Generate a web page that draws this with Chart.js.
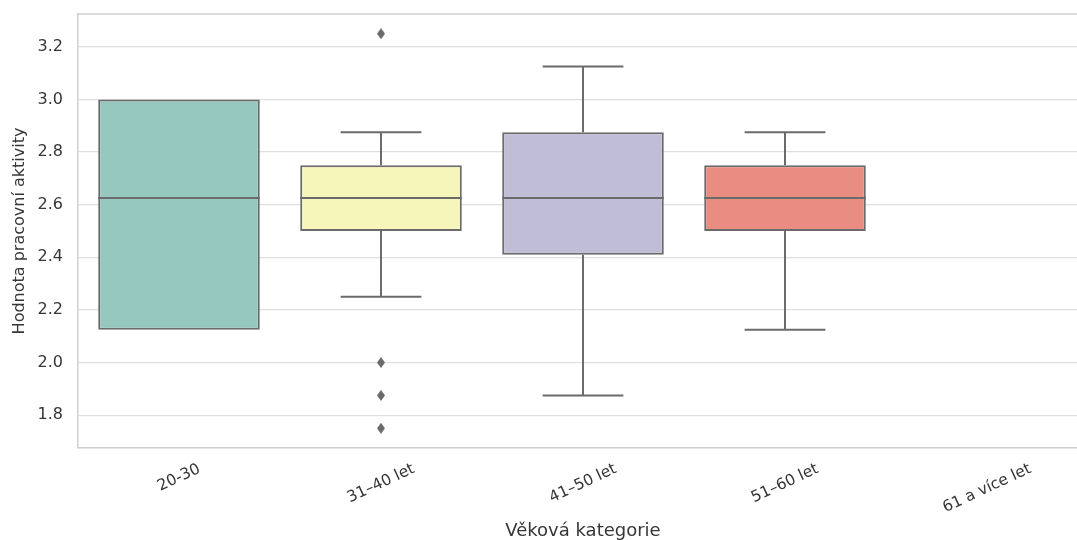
<!DOCTYPE html>
<html>
<head>
<meta charset="utf-8">
<script src="https://cdn.jsdelivr.net/npm/chart.js@4/dist/chart.umd.min.js"></script>
<style>
    html, body { margin: 0; padding: 0; background: #fff; overflow: hidden; }
    #wrap { width: 1094px; height: 540px; position: relative; }
</style>
</head>
<body>
<div id="wrap"><canvas id="boxChart"></canvas></div>
<script>
// Box plot data per age category
const categories = ['20-30', '31–40 let', '41–50 let', '51–60 let', '61 a více let'];
const q1 = [2.125, 2.5, 2.41, 2.5, null];
const medians = [2.625, 2.625, 2.625, 2.625, null];
const q3 = [3.0, 2.75, 2.875, 2.75, null];
const whiskerLow = [2.125, 2.25, 1.875, 2.125, null];
const whiskerHigh = [3.0, 2.875, 3.125, 2.875, null];
const outliers = [[], [3.25, 2.0, 1.875, 1.75], [], [], []];
const yTicks = [1.8, 2.0, 2.2, 2.4, 2.6, 2.8, 3.0, 3.2];

const boxColors = ['#97c8c0', '#f6f6bb', '#c0bdd6', '#e98d82', '#cccccc'];
const lineColor = '#6b6b6b';
const textColor = '#363636';

// thin diamond marker like matplotlib 'd'
const diamond = document.createElement('canvas');
diamond.width = 8;
diamond.height = 11;
const dctx = diamond.getContext('2d');
dctx.fillStyle = lineColor;
dctx.beginPath();
dctx.moveTo(4, 0);
dctx.lineTo(8, 5.5);
dctx.lineTo(4, 11);
dctx.lineTo(0, 5.5);
dctx.closePath();
dctx.fill();

const outlierPoints = [];
outliers.forEach((list, i) => {
    list.forEach(v => outlierPoints.push({ x: categories[i], y: v }));
});

// medians, whiskers, top frame and rotated x labels
const boxExtras = {
    id: 'boxExtras',
    beforeDatasetsDraw(chart) {
        const { ctx, chartArea } = chart;
        ctx.save();
        ctx.strokeStyle = '#d0d0d0';
        ctx.lineWidth = 1.5;
        ctx.beginPath();
        ctx.moveTo(chartArea.left, chartArea.top);
        ctx.lineTo(chartArea.right, chartArea.top);
        ctx.stroke();
        ctx.restore();
    },
    afterDatasetsDraw(chart) {
        const { ctx, scales } = chart;
        const x = scales.x, y = scales.y;
        const bars = chart.getDatasetMeta(0).data;
        ctx.save();
        ctx.strokeStyle = lineColor;
        ctx.lineWidth = 2;
        ctx.lineCap = 'butt';
        categories.forEach((c, i) => {
            if (medians[i] === null) return;
            const cx = x.getPixelForValue(i);
            const half = bars[i].width / 2;
            const capHalf = half / 2;
            // median
            ctx.beginPath();
            ctx.moveTo(cx - half, y.getPixelForValue(medians[i]));
            ctx.lineTo(cx + half, y.getPixelForValue(medians[i]));
            ctx.stroke();
            // whiskers
            if (whiskerHigh[i] > q3[i]) {
                ctx.beginPath();
                ctx.moveTo(cx, y.getPixelForValue(q3[i]));
                ctx.lineTo(cx, y.getPixelForValue(whiskerHigh[i]));
                ctx.moveTo(cx - capHalf, y.getPixelForValue(whiskerHigh[i]));
                ctx.lineTo(cx + capHalf, y.getPixelForValue(whiskerHigh[i]));
                ctx.stroke();
            }
            if (whiskerLow[i] < q1[i]) {
                ctx.beginPath();
                ctx.moveTo(cx, y.getPixelForValue(q1[i]));
                ctx.lineTo(cx, y.getPixelForValue(whiskerLow[i]));
                ctx.moveTo(cx - capHalf, y.getPixelForValue(whiskerLow[i]));
                ctx.lineTo(cx + capHalf, y.getPixelForValue(whiskerLow[i]));
                ctx.stroke();
            }
        });
        ctx.restore();
    },
    afterDraw(chart) {
        const { ctx, scales, chartArea } = chart;
        const x = scales.x;
        const size = 15.5;
        ctx.save();
        ctx.font = size + 'px "DejaVu Sans"';
        ctx.fillStyle = textColor;
        ctx.textAlign = 'center';
        ctx.textBaseline = 'middle';
        const ang = 25 * Math.PI / 180;
        categories.forEach((label, i) => {
            const w = ctx.measureText(label).width;
            const boxH = w * Math.sin(ang) + 0.76 * size * Math.cos(ang);
            const cx = x.getPixelForValue(i);
            const cy = chartArea.bottom + 15 + boxH / 2;
            ctx.save();
            ctx.translate(cx, cy);
            ctx.rotate(-ang);
            ctx.fillText(label, 0, 0);
            ctx.restore();
        });
        ctx.restore();
    }
};

const ctx = document.getElementById('boxChart').getContext('2d');
new Chart(ctx, {
    data: {
        labels: categories,
        datasets: [{
            type: 'bar',
            label: 'Box',
            data: categories.map((c, i) => q1[i] === null ? null : [q1[i], q3[i]]),
            backgroundColor: boxColors,
            borderColor: lineColor,
            borderWidth: 2,
            borderSkipped: false,
            barPercentage: 1,
            categoryPercentage: 0.8
        }, {
            type: 'line',
            label: 'Odlehlé hodnoty',
            data: outlierPoints,
            showLine: false,
            pointStyle: diamond,
            pointRadius: 5,
            pointBackgroundColor: lineColor,
            pointBorderColor: lineColor
        }]
    },
    options: {
        responsive: true,
        maintainAspectRatio: false,
        animation: false,
        layout: {
            padding: { top: 14, left: 10, right: 0, bottom: 0 }
        },
        plugins: {
            legend: { display: false },
            tooltip: { enabled: false }
        },
        scales: {
            x: {
                type: 'category',
                grid: { display: false, drawTicks: false },
                border: { display: true, color: '#d0d0d0', width: 1.5 },
                ticks: { display: false },
                afterFit: axis => { axis.height = 92; },
                title: {
                    display: true,
                    text: 'Věková kategorie',
                    color: textColor,
                    font: { family: 'DejaVu Sans', size: 18, lineHeight: 1 },
                    padding: { top: 74, bottom: 0 }
                }
            },
            y: {
                min: 1.675,
                max: 3.325,
                afterBuildTicks: axis => {
                    axis.ticks = yTicks.map(v => ({ value: v }));
                },
                afterFit: axis => {
                    axis.width = 68;
                    axis.paddingTop = 0;
                    axis.paddingBottom = 0;
                },
                grid: { color: '#dfdfdf', lineWidth: 1.2, drawTicks: false },
                border: { display: true, color: '#d0d0d0', width: 1.5 },
                ticks: {
                    color: textColor,
                    padding: 15,
                    font: { family: 'DejaVu Sans', size: 16 },
                    callback: v => Number(v).toFixed(1)
                },
                title: {
                    display: true,
                    text: 'Hodnota pracovní aktivity',
                    color: textColor,
                    font: { family: 'DejaVu Sans', size: 16 },
                    padding: { top: 0, bottom: 9 }
                }
            }
        }
    },
    plugins: [boxExtras]
});
</script>
</body>
</html>
